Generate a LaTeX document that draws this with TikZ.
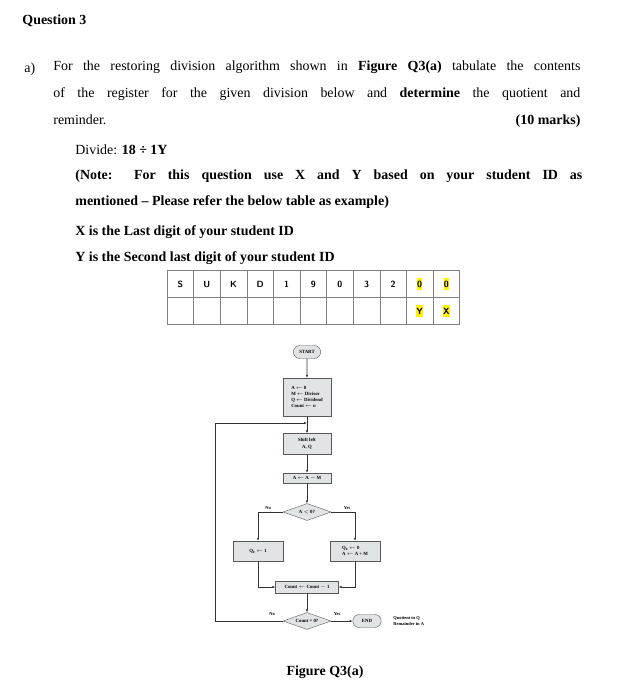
\documentclass[tikz,border=0pt]{standalone}
\usepackage{fontspec}
\setmainfont{Liberation Serif}
\usetikzlibrary{arrows.meta,positioning,shapes}
\begin{document}
\begin{tikzpicture}[x=1bp,y=-1bp, thick]

   \tikzstyle{txt}=[anchor=west, inner sep=0pt, font=\fontsize{14}{16}\selectfont]
   \tikzstyle{cell}=[draw=gray, thin, minimum width=26.6bp, minimum height=27bp, inner sep=0pt, font=\sffamily\bfseries\small]
   \tikzstyle{blk}=[rectangle, draw=gray!70!black, thin, fill=cyan!8!gray!25, font=\fontsize{4.8}{6.8}\selectfont\bfseries, align=center, inner sep=1.5bp]
   \tikzstyle{dec}=[diamond, aspect=2.8, draw=gray!70!black, thin, fill=cyan!8!gray!25, font=\fontsize{4.8}{5.8}\selectfont\bfseries, inner sep=0pt, minimum width=48bp, minimum height=17bp]
   \tikzstyle{term}=[rounded rectangle, draw=gray!70!black, thin, fill=cyan!8!gray!25, font=\fontsize{4.8}{5.8}\selectfont\bfseries, minimum height=13bp]
   \tikzstyle{lbl}=[font=\fontsize{4.5}{5.5}\selectfont\bfseries, inner sep=0pt]
   \tikzstyle{flow}=[-{Latex[length=3bp,width=2.5bp]}, line width=0.7bp, gray!40!black]

   \useasboundingbox (0,0) rectangle (626,700);

   % question text
   \node[txt] (q) at (22,21) {\textbf{Question 3}};
   \node[txt] (a) at (24,69) {a)};
   \node[txt, anchor=north west, text width=527bp, align=justify, font=\fontsize{14}{27.5}\selectfont] (para) at (53,60)
     {For the restoring division algorithm shown in \textbf{Figure Q3(a)} tabulate the contents\linebreak
      of the register for the given division below and \textbf{determine} the quotient and\linebreak
      reminder.\hfill\textbf{(10 marks)}};
   \node[txt] (div) at (75,150) {Divide: \textbf{18 ÷ 1Y}};
   \node[txt, anchor=north west, text width=507bp, align=justify, font=\fontsize{14}{27}\selectfont\bfseries] (note) at (75,169)
     {(Note: For this question use X and Y based on your student ID as\linebreak
      mentioned -- Please refer the below table as example)};
   \node[txt, font=\fontsize{14}{16}\selectfont\bfseries] (xl) at (75,232) {X is the Last digit of your student ID};
   \node[txt, font=\fontsize{14}{16}\selectfont\bfseries] (yl) at (75,258) {Y is the Second last digit of your student ID};

   % student ID table
   \foreach \c [count=\i] in {S,U,K,D,1,9,0,3,2}{
     \node[cell] (t\i) at ({167+13.3+(\i-1)*26.6},284) {\c};
     \node[cell] (b\i) at ({167+13.3+(\i-1)*26.6},311) {};
   }
   \node[cell] (t10) at ({167+13.3+9*26.6},284) {\colorbox{yellow}{\kern-3pt 0\kern-3pt}};
   \node[cell] (t11) at ({167+13.3+10*26.6},284) {\colorbox{yellow}{\kern-3pt 0\kern-3pt}};
   \node[cell] (b10) at ({167+13.3+9*26.6},311) {\colorbox{yellow}{\kern-3pt Y\kern-3pt}};
   \node[cell] (b11) at ({167+13.3+10*26.6},311) {\colorbox{yellow}{\kern-3pt X\kern-3pt}};

   % flowchart
   \node[term, minimum width=34bp] (start) at (307,352) {START};
   \node[blk, align=left, minimum width=48bp, minimum height=38bp, font=\fontsize{4.8}{5.8}\selectfont\bfseries] (init) at (307,397)
     {A $\leftarrow$ 0\\ M $\leftarrow$ Divisor\\ Q $\leftarrow$ Dividend\\ Count $\leftarrow$ \textit{n}};
   \coordinate (join) at (307,423);
   \node[blk, minimum width=48bp, minimum height=21bp] (shift) at (307,444) {Shift left\\ A, Q};
   \node[blk, minimum width=48bp, minimum height=10bp] (sub) at (307,478) {A $\leftarrow$ A $-$ M};
   \node[dec] (neg) at (307,512) {A $<$ 0?};
   \node[blk, minimum width=50bp, minimum height=20bp] (q1) at (258,551) {Q\textsubscript{0} $\leftarrow$ 1};
   \node[blk, align=left, minimum width=50bp, minimum height=20bp] (q0) at (355,551) {Q\textsubscript{0} $\leftarrow$ 0\\ A $\leftarrow$ A + M};
   \node[blk, minimum width=63bp, minimum height=12bp] (dec) at (307,587) {Count $\leftarrow$ Count $-$ 1};
   \node[dec] (zero) at (307,621) {Count = 0?};
   \node[term, minimum width=35bp] (end) at (367,621) {END};
   \node[lbl, align=left, anchor=west] (res) at (393,621) {Quotient in Q\\ Remainder in A};

   \coordinate (loop) at (215,621);

   \draw[flow] (start) -- (init);
   \draw[flow] (init) -- (shift);
   \draw[flow] (shift) -- (sub);
   \draw[flow] (sub) -- (neg);
   \draw[flow] (neg.west) -| (q1.north);
   \draw[flow] (neg.east) -| (q0.north);
   \draw[flow] (q1.south) |- (dec.west);
   \draw[flow] (q0.south) |- (dec.east);
   \draw[flow] (dec) -- (zero);
   \draw[flow] (zero) -- (end);
   \draw[flow] (zero.west) -- (loop) |- (join);

   \node[lbl] (no1) at (268,508) {No};
   \node[lbl] (yes1) at (347,508) {Yes};
   \node[lbl] (no2) at (272,614) {No};
   \node[lbl] (yes2) at (337,614) {Yes};

   \node[font=\fontsize{14}{16}\selectfont\bfseries] (cap) at (325,672) {Figure Q3(a)};
\end{tikzpicture}
\end{document}
